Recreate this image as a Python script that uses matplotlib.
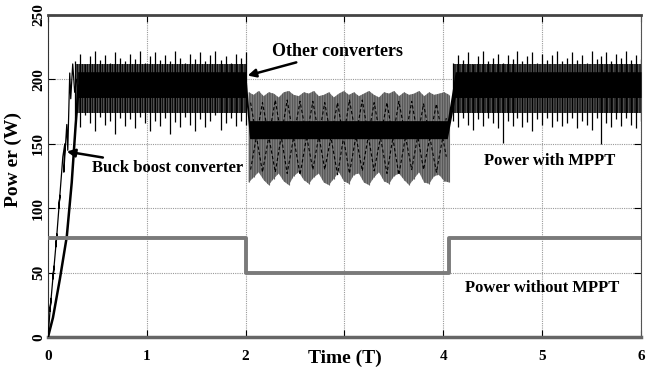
import matplotlib.pyplot as plt
import numpy as np

plt.rcParams['font.family'] = ['Liberation Serif', 'DejaVu Serif']
plt.rcParams['font.weight'] = 'bold'
plt.rcParams['hatch.linewidth'] = 0.6

# ---- data ----
# start-up ramp of the MPPT output
ramp_t = [0.0, 0.05, 0.12, 0.19, 0.24, 0.28, 0.31]
ramp_p = [0, 15, 45, 78, 120, 165, 195]

# buck boost converter start-up (thin zig-zag)
bb_t = [0.0, 0.03, 0.02, 0.06, 0.05, 0.09, 0.08, 0.12, 0.11, 0.15, 0.17,
        0.16, 0.19, 0.20, 0.22, 0.23, 0.25, 0.27, 0.29]
bb_p = [0, 30, 20, 55, 45, 80, 70, 110, 100, 140, 150, 128, 165, 145,
        205, 185, 212, 190, 200]

# with MPPT, 0.27 .. 2.0 s : spike tops / bottoms
spk_a_hi = [214, 220, 212, 218, 222, 215, 219, 213, 221, 217, 214, 220,
            216, 222, 213, 218, 221, 215, 219, 214, 222, 217, 213, 220,
            216, 221, 214, 219, 222, 215, 218, 213, 220, 217, 221]
spk_a_lo = [170, 163, 172, 166, 160, 171, 165, 168, 158, 170, 164, 169,
            162, 171, 166, 160, 168, 164, 170, 158, 167, 163, 171, 165,
            160, 169, 163, 168, 172, 161, 166, 170, 164, 168, 165]

# with MPPT, 4.1 .. 6.0 s
spk_c_hi = [213, 219, 215, 221, 212, 218, 222, 214, 217, 220, 213, 219,
            216, 222, 214, 218, 221, 213, 220, 215, 219, 222, 214, 217,
            221, 215, 219, 213, 222, 216, 218, 221, 214, 220, 217, 222,
            215, 219, 216]
spk_c_lo = [168, 163, 170, 165, 161, 169, 164, 170, 166, 162, 151, 168,
            164, 170, 163, 167, 160, 169, 165, 170, 163, 168, 164, 166,
            170, 162, 168, 165, 161, 170, 150, 166, 163, 169, 164, 170,
            165, 162, 168]

# typical band of the ripple with MPPT
ripple_lo, ripple_hi = 174, 212

# other converters, 2.03 .. 4.06 s : grey band edges
band_b_hi = [190, 188, 191, 187, 190, 189, 186, 190, 191, 188, 187, 190,
             189, 191, 187, 188, 190, 186, 189, 191, 188, 190, 187, 189,
             191, 188, 186, 190, 189, 191, 187, 190, 188, 189, 191, 187,
             190, 188, 189, 190, 188]
band_b_lo = [120, 124, 128, 122, 118, 123, 127, 121, 118, 125, 128, 122,
             119, 124, 127, 120, 118, 123, 128, 121, 119, 126, 127, 120,
             118, 124, 128, 121, 119, 125, 127, 122, 118, 123, 128, 120,
             119, 125, 126, 121, 120]
# beat pattern criss-cross inside the grey band
beat_t = [2.05, 2.17, 2.30, 2.42, 2.55, 2.68, 2.80, 2.93, 3.05, 3.18,
          3.30, 3.43, 3.55, 3.68, 3.80, 3.93, 4.03]
beat_p1 = [130, 182, 128, 184, 126, 183, 130, 182, 127, 184, 129, 182,
           126, 183, 130, 181, 140]
beat_p2 = [182, 128, 184, 127, 183, 130, 182, 126, 184, 129, 182, 127,
           183, 130, 181, 128, 170]

# dense core of the signal
core_t = [0.30, 2.00, 2.04, 4.04, 4.12, 6.00]
core_hi = [206, 206, 168, 168, 206, 206]
core_lo = [186, 186, 154, 154, 186, 186]

# power without MPPT
nomppt_t = [0, 2.0, 2.0, 4.06, 4.06, 6]
nomppt_p = [77, 77, 50, 50, 77, 77]

xticks = [0, 1, 2, 3, 4, 5, 6]
xticklabels = ['0', '1', '2', '', '4', '5', '6']
yticks = [0, 50, 100, 150, 200, 250]

# ---- plot ----
fig = plt.figure(figsize=(6.55, 3.76), dpi=100)
ax = fig.add_axes([0.0733, 0.1037, 0.9053, 0.8563])

ax.grid(True, linestyle=(0, (1, 1)), color='#9a9a9a', lw=0.8)
ax.set_axisbelow(True)

# grey band of the other converters
tb = np.linspace(2.03, 4.06, len(band_b_hi))
ax.fill_between(tb, band_b_lo, band_b_hi, facecolor='#8c8c8c',
                edgecolor='#505050', hatch='||||||||||', lw=0)
ax.vlines(tb, band_b_lo, band_b_hi, color='#606060', lw=0.8)
ax.plot(beat_t, beat_p1, color='black', lw=0.8, ls=(0, (3, 2)))
ax.plot(beat_t, beat_p2, color='black', lw=0.8, ls=(0, (3, 2)))

# spikes with MPPT
ta = np.linspace(0.27, 2.0, len(spk_a_hi))
tc = np.linspace(4.1, 6.0, len(spk_c_hi))
for t, hi, lo in [(ta, spk_a_hi, spk_a_lo), (tc, spk_c_hi, spk_c_lo)]:
    ax.fill_between([t[0], t[-1]], ripple_lo, ripple_hi, facecolor='#6a6a6a',
                    edgecolor='black', hatch='||||||||||', lw=0)
    ax.vlines(t, lo, hi, color='black', lw=0.9)

ax.fill_between(core_t, core_lo, core_hi, color='black', lw=0, zorder=3)

ax.plot(ramp_t, ramp_p, color='black', lw=1.8, zorder=4)
ax.plot(bb_t, bb_p, color='black', lw=0.9, zorder=4)

ax.plot(nomppt_t, nomppt_p, color='#7a7a7a', lw=2.8, zorder=4)

# annotations
ax.annotate('Other converters', xy=(2.02, 203), xytext=(2.27, 222),
            fontsize=13, fontweight='bold', va='center', ha='left',
            arrowprops=dict(arrowstyle='-|>', color='black', lw=1.8,
                            shrinkA=0, shrinkB=0, mutation_scale=12),
            zorder=5)
ax.annotate('Buck boost converter', xy=(0.19, 144), xytext=(0.45, 131),
            fontsize=12, fontweight='bold', va='center', ha='left',
            arrowprops=dict(arrowstyle='-|>', color='black', lw=1.8,
                            shrinkA=0, shrinkB=0, mutation_scale=12),
            zorder=5)
ax.text(5.08, 137, 'Power with MPPT', fontsize=12, fontweight='bold',
        ha='center', va='center')
ax.text(5.0, 38, 'Power without MPPT', fontsize=12, fontweight='bold',
        ha='center', va='center')

ax.set_xlim(0, 6)
ax.set_ylim(0, 250)
ax.set_xticks(xticks)
ax.set_xticklabels(xticklabels)
ax.set_yticks(yticks)
ax.set_yticklabels([str(v) for v in yticks], rotation=90, va='center')
ax.tick_params(direction='in', length=5, top=True, right=True,
               labelsize=11, colors='black')
ax.tick_params(axis='x', pad=9)
ax.tick_params(axis='y', pad=2)

ax.set_xlabel('Time (T)', fontsize=14, fontweight='bold')
ax.xaxis.set_label_coords(0.5, -0.065)
ax.xaxis.label.set_va('center')
ax.set_ylabel('Pow er (W)', fontsize=14, fontweight='bold')
ax.yaxis.set_label_coords(-0.058, 0.55)
ax.yaxis.label.set_va('center')

ax.spines['top'].set_color('#444444')
ax.spines['top'].set_linewidth(2)
ax.spines['bottom'].set_color('#666666')
ax.spines['bottom'].set_linewidth(2.5)
ax.spines['right'].set_color('#555555')
ax.spines['left'].set_color('#333333')

plt.savefig('out.png', dpi=100)
